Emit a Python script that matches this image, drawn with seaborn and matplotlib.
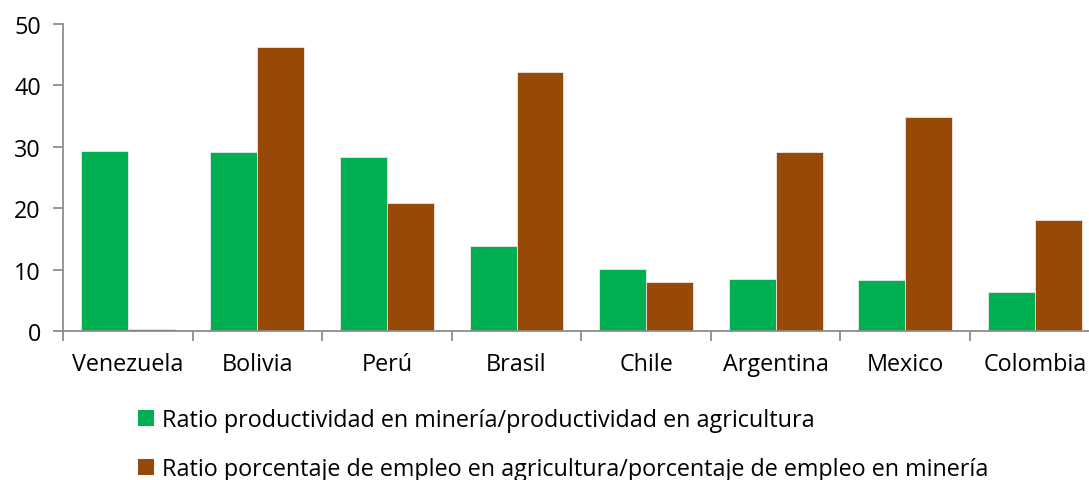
import matplotlib
matplotlib.use("Agg")
import matplotlib.pyplot as plt
from matplotlib.patches import Patch
import seaborn as sns
import pandas as pd

countries = ["Venezuela", "Bolivia", "Perú", "Brasil", "Chile", "Argentina", "Mexico", "Colombia"]
productividad = [29.3, 29.2, 28.3, 13.8, 10.1, 8.5, 8.3, 6.4]
empleo = [0.3, 46.3, 20.8, 42.2, 8.0, 29.2, 34.9, 18.1]
series_names = [
    "Ratio productividad en minería/productividad en agricultura",
    "Ratio porcentaje de empleo en agricultura/porcentaje de empleo en minería",
]
colors = ["#00B050", "#984807"]

df = pd.DataFrame({
    "country": countries * 2,
    "value": productividad + empleo,
    "serie": [series_names[0]] * len(countries) + [series_names[1]] * len(countries),
})

sns.set_style("white")
plt.rcParams["font.family"] = ["Open Sans", "DejaVu Sans"]
plt.rcParams["text.color"] = "black"
plt.rcParams["xtick.labelcolor"] = "black"
plt.rcParams["ytick.labelcolor"] = "black"

fig = plt.figure(figsize=(10.89, 4.81), dpi=100)
ax = fig.add_axes([63 / 1089, 1 - 332 / 481, 1 - 63 / 1089, (332 - 25) / 481])

sns.barplot(data=df, x="country", y="value", hue="serie", palette=colors,
            width=0.725, gap=0, dodge=True, ax=ax, legend=False,
            edgecolor="#e8e8e8", linewidth=0.6, saturation=1)

ax.set_ylim(0, 50)
ax.set_yticks(range(0, 51, 10))
ax.set_xlim(-0.5, 7.5 - 10.6 / 129.6)
ax.set_xlabel("")
ax.set_ylabel("")

for side in ["top", "right"]:
    ax.spines[side].set_visible(False)
for side in ["left", "bottom"]:
    ax.spines[side].set_color("#8c8c8c")
    ax.spines[side].set_linewidth(1.3)

ax.tick_params(axis="y", which="major", direction="out", length=7, width=1.3,
               color="#8c8c8c", labelsize=16.8, pad=9, left=True, labelcolor="black")
ax.tick_params(axis="x", which="major", length=0, labelsize=16.8, pad=15, labelcolor="black")
ax.set_xticks([i - 0.5 for i in range(8)], minor=True)
ax.tick_params(axis="x", which="minor", direction="out", length=7, width=1.3,
               color="#8c8c8c", bottom=True)

handles = [Patch(facecolor=c, edgecolor="none") for c in colors]
for i, (h, name) in enumerate(zip(handles, series_names)):
    fig.legend([h], [name], loc="center left",
               bbox_to_anchor=(138 / 1089, 1 - (421 + 49 * i) / 481),
               frameon=False, fontsize=16.8, handlelength=0.7, handleheight=0.7,
               handletextpad=0.35, borderpad=0, borderaxespad=0)

fig.savefig("out.png", dpi=100)
